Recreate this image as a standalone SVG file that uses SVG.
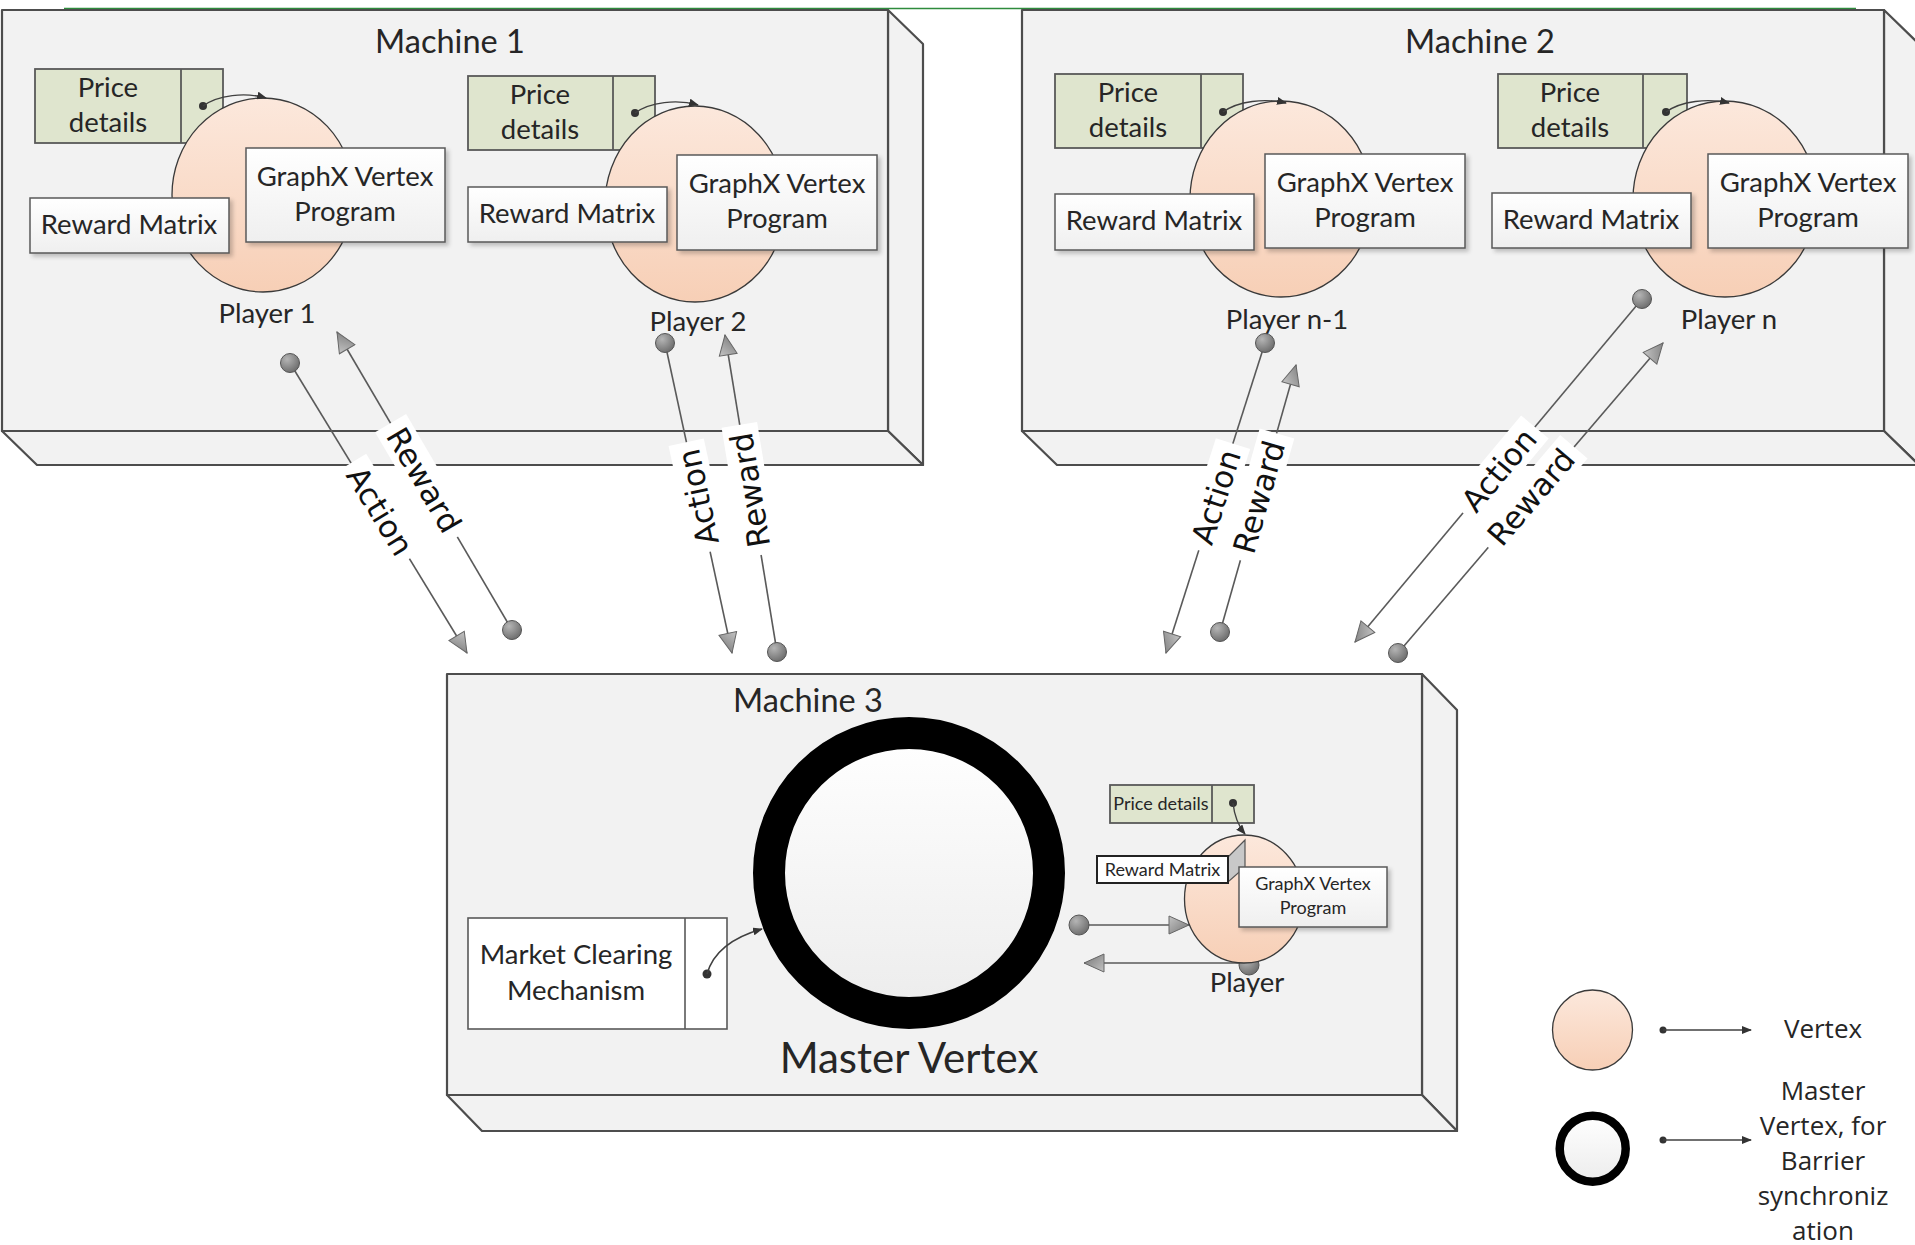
<svg xmlns="http://www.w3.org/2000/svg" width="1915" height="1245" viewBox="0 0 1915 1245">
  <defs>
    <style>
      .mach { fill:#f2f2f2; stroke:#4d4d4d; stroke-width:2.2; stroke-linejoin:round; }
      .box { fill:url(#gWhite); stroke:#595959; stroke-width:1.5; filter:url(#shadow); }
      .price { fill:#dfe5ce; stroke:#595959; stroke-width:1.8; }
      .vtx { fill:url(#gPeach); stroke:#3a3a3a; stroke-width:1.3; }
      .t { font-family:Lato, "Liberation Sans", sans-serif; fill:#262626; text-anchor:middle; font-size:27.5px; }
      .ts { font-family:Lato, "Liberation Sans", sans-serif; fill:#262626; text-anchor:middle; font-size:18px; }
      .title { font-family:Lato, "Liberation Sans", sans-serif; fill:#262626; text-anchor:middle; font-size:32.5px; }
      .lbl { font-family:"DejaVu Sans", sans-serif; font-size:31px; fill:#111; text-anchor:middle; }
      .leg { font-family:"Open Sans", "Liberation Sans", sans-serif; font-size:26px; fill:#262626; text-anchor:middle; }
      .conn { stroke:#5a5a5a; stroke-width:1.6; fill:none; }
      .thin { stroke:#404040; stroke-width:1.4; fill:none; }
      .dot { fill:url(#gDot); stroke:#555; stroke-width:1; }
      .pin { fill:#333; }
    </style>
    <linearGradient id="gPeach" x1="0" y1="0" x2="0" y2="1">
      <stop offset="0" stop-color="#fce8dc"/>
      <stop offset="1" stop-color="#f7cfb6"/>
    </linearGradient>
    <linearGradient id="gWhite" x1="0" y1="0" x2="0" y2="1">
      <stop offset="0" stop-color="#ffffff"/>
      <stop offset="1" stop-color="#efefef"/>
    </linearGradient>
    <linearGradient id="gRing" x1="0" y1="0" x2="0" y2="1">
      <stop offset="0" stop-color="#ffffff"/>
      <stop offset="1" stop-color="#ececec"/>
    </linearGradient>
    <radialGradient id="gDot" cx="0.35" cy="0.3" r="0.8">
      <stop offset="0" stop-color="#b5b5b5"/>
      <stop offset="1" stop-color="#666666"/>
    </radialGradient>
    <linearGradient id="gTri" x1="0" y1="0" x2="1" y2="1">
      <stop offset="0" stop-color="#c4c4c4"/>
      <stop offset="1" stop-color="#747474"/>
    </linearGradient>
    <filter id="shadow" x="-10%" y="-10%" width="130%" height="140%">
      <feDropShadow dx="3" dy="3" stdDeviation="2" flood-color="#000" flood-opacity="0.22"/>
    </filter>
    <marker id="tri" viewBox="0 0 22 20" refX="21" refY="10" markerWidth="22" markerHeight="20" markerUnits="userSpaceOnUse" orient="auto">
      <path d="M1,1 L21,10 L1,19 Z" fill="url(#gTri)" stroke="#666" stroke-width="1"/>
    </marker>
    <marker id="sm" viewBox="0 0 10 8" refX="9" refY="4" markerWidth="10" markerHeight="8" markerUnits="userSpaceOnUse" orient="auto">
      <path d="M0,0 L10,4 L0,8 Z" fill="#333"/>
    </marker>
  </defs>

  <rect width="1915" height="1245" fill="#ffffff"/>

  <!-- thin rule along the top -->
  <line x1="64" y1="8.5" x2="1856" y2="8.5" stroke="#2e8b3c" stroke-width="1.6"/>

  <!-- Machine 1 -->
  <g id="machine1">
    <polygon class="mach" points="888,10 923,44 923,465 888,431"/>
    <polygon class="mach" points="2,431 888,431 923,465 37,465"/>
    <rect class="mach" x="2" y="10" width="886" height="421"/>
    <text class="title" x="450" y="53">Machine 1</text>
  </g>

  <!-- Machine 2 -->
  <g id="machine2">
    <polygon class="mach" points="1884,10 1919,44 1919,465 1884,431"/>
    <polygon class="mach" points="1022,431 1884,431 1919,465 1057,465"/>
    <rect class="mach" x="1022" y="10" width="862" height="421"/>
    <text class="title" x="1480" y="53">Machine 2</text>
  </g>

  <!-- Machine 3 -->
  <g id="machine3">
    <polygon class="mach" points="1422,674 1457,710 1457,1131 1422,1095"/>
    <polygon class="mach" points="447,1095 1422,1095 1457,1131 482,1131"/>
    <rect class="mach" x="447" y="674" width="975" height="421"/>
    <text class="title" x="808" y="712">Machine 3</text>
  </g>

  <!-- Player 1 -->
  <g id="player1">
    <rect class="price" x="35" y="69" width="188" height="74"/>
    <line class="price" x1="181" y1="69" x2="181" y2="143"/>
    <text class="t" x="108" y="97">Price</text>
    <text class="t" x="108" y="132">details</text>
    <ellipse class="vtx" cx="263" cy="195" rx="91" ry="97"/>
    <circle class="pin" cx="203" cy="106" r="4"/>
    <path class="thin" d="M203,106 C218,95 245,92 266,98" marker-end="url(#sm)"/>
    <rect class="box" x="246" y="148" width="199" height="94"/>
    <text class="t" x="345" y="186">GraphX Vertex</text>
    <text class="t" x="345" y="221">Program</text>
    <rect class="box" x="30" y="198" width="199" height="55"/>
    <text class="t" x="129" y="234">Reward Matrix</text>
    <text class="t" x="267" y="323">Player 1</text>
  </g>

  <!-- Player 2 -->
  <g id="player2">
    <rect class="price" x="468" y="76" width="187" height="74"/>
    <line class="price" x1="613" y1="76" x2="613" y2="150"/>
    <text class="t" x="540" y="104">Price</text>
    <text class="t" x="540" y="139">details</text>
    <ellipse class="vtx" cx="695" cy="204" rx="90" ry="98"/>
    <circle class="pin" cx="635" cy="113" r="4"/>
    <path class="thin" d="M635,113 C650,102 677,99 698,105" marker-end="url(#sm)"/>
    <rect class="box" x="677" y="155" width="200" height="95"/>
    <text class="t" x="777" y="193">GraphX Vertex</text>
    <text class="t" x="777" y="228">Program</text>
    <rect class="box" x="468" y="187" width="199" height="55"/>
    <text class="t" x="567" y="223">Reward Matrix</text>
    <text class="t" x="698" y="331">Player 2</text>
  </g>

  <!-- Player n-1 -->
  <g id="player-n-1">
    <rect class="price" x="1055" y="74" width="188" height="74"/>
    <line class="price" x1="1201" y1="74" x2="1201" y2="148"/>
    <text class="t" x="1128" y="102">Price</text>
    <text class="t" x="1128" y="137">details</text>
    <ellipse class="vtx" cx="1281" cy="199" rx="91" ry="98"/>
    <circle class="pin" cx="1223" cy="112" r="4"/>
    <path class="thin" d="M1223,112 C1238,101 1265,98 1286,103" marker-end="url(#sm)"/>
    <rect class="box" x="1265" y="154" width="200" height="94"/>
    <text class="t" x="1365" y="192">GraphX Vertex</text>
    <text class="t" x="1365" y="227">Program</text>
    <rect class="box" x="1055" y="194" width="199" height="56"/>
    <text class="t" x="1154" y="230">Reward Matrix</text>
    <text class="t" x="1287" y="329">Player n-1</text>
  </g>

  <!-- Player n -->
  <g id="player-n">
    <rect class="price" x="1498" y="74" width="189" height="74"/>
    <line class="price" x1="1643" y1="74" x2="1643" y2="148"/>
    <text class="t" x="1570" y="102">Price</text>
    <text class="t" x="1570" y="137">details</text>
    <ellipse class="vtx" cx="1725" cy="199" rx="92" ry="98"/>
    <circle class="pin" cx="1666" cy="112" r="4"/>
    <path class="thin" d="M1666,112 C1681,101 1708,98 1729,103" marker-end="url(#sm)"/>
    <rect class="box" x="1708" y="154" width="200" height="94"/>
    <text class="t" x="1808" y="192">GraphX Vertex</text>
    <text class="t" x="1808" y="227">Program</text>
    <rect class="box" x="1492" y="193" width="199" height="55"/>
    <text class="t" x="1591" y="229">Reward Matrix</text>
    <text class="t" x="1729" y="329">Player n</text>
  </g>

  <!-- Master vertex with market clearing -->
  <g id="master-vertex">
    <circle cx="909" cy="873" r="140" fill="url(#gRing)" stroke="#000" stroke-width="32"/>
    <text class="title" x="909" y="1073" style="font-size:42px">Master Vertex</text>
  </g>
  <g id="market-clearing">
    <rect x="468" y="918" width="259" height="111" fill="#ffffff" stroke="#595959" stroke-width="1.6"/>
    <line x1="685" y1="918" x2="685" y2="1029" stroke="#595959" stroke-width="1.6"/>
    <text class="t" x="576" y="964">Market Clearing</text>
    <text class="t" x="576" y="1000">Mechanism</text>
    <circle class="pin" cx="707" cy="974" r="4.5"/>
    <path d="M707,974 Q716,942 762,929" stroke="#404040" stroke-width="1.6" fill="none" marker-end="url(#sm)"/>
  </g>

  <!-- Connectors -->
  <g id="connectors">
    <path class="conn" d="M290,363 L467,653" marker-end="url(#tri)"/>
    <path class="conn" d="M512,630 L337,332" marker-end="url(#tri)"/>
    <path class="conn" d="M665,343 L732,653" marker-end="url(#tri)"/>
    <path class="conn" d="M777,652 L725,335" marker-end="url(#tri)"/>
    <path class="conn" d="M1265,343 L1166,653" marker-end="url(#tri)"/>
    <path class="conn" d="M1220,632 L1296,365" marker-end="url(#tri)"/>
    <path class="conn" d="M1642,299 L1355,642" marker-end="url(#tri)"/>
    <path class="conn" d="M1398,653 L1663,343" marker-end="url(#tri)"/>
    <path class="conn" d="M1079,925 L1189,925" marker-end="url(#tri)"/>
    <path class="conn" d="M1249,963 L1084,963" marker-end="url(#tri)"/>
    <circle class="dot" cx="290" cy="363" r="9.5"/>
    <circle class="dot" cx="512" cy="630" r="9.5"/>
    <circle class="dot" cx="665" cy="343" r="9.5"/>
    <circle class="dot" cx="777" cy="652" r="9.5"/>
    <circle class="dot" cx="1265" cy="343" r="9.5"/>
    <circle class="dot" cx="1220" cy="632" r="9.5"/>
    <circle class="dot" cx="1642" cy="299" r="9.5"/>
    <circle class="dot" cx="1398" cy="653" r="9.5"/>
    <circle class="dot" cx="1079" cy="925" r="10"/>
    <circle class="dot" cx="1249" cy="965" r="10"/>

    <g transform="translate(380,511) rotate(58.6)">
      <rect x="-56" y="-18" width="112" height="36" fill="#fff"/>
      <text class="lbl" y="11">Action</text>
    </g>
    <g transform="translate(424,480) rotate(59.6)">
      <rect x="-66" y="-18" width="132" height="36" fill="#fff"/>
      <text class="lbl" y="11">Reward</text>
    </g>
    <g transform="translate(698,497) rotate(-102.2)">
      <rect x="-56" y="-18" width="112" height="36" fill="#fff"/>
      <text class="lbl" y="11">Action</text>
    </g>
    <g transform="translate(750,490) rotate(-99.3)">
      <rect x="-66" y="-18" width="132" height="36" fill="#fff"/>
      <text class="lbl" y="11">Reward</text>
    </g>
    <g transform="translate(1216,497) rotate(-72.3)">
      <rect x="-56" y="-18" width="112" height="36" fill="#fff"/>
      <text class="lbl" y="11">Action</text>
    </g>
    <g transform="translate(1259,497) rotate(-74.2)">
      <rect x="-66" y="-18" width="132" height="36" fill="#fff"/>
      <text class="lbl" y="11">Reward</text>
    </g>
    <g transform="translate(1499,470) rotate(-50.1)">
      <rect x="-56" y="-18" width="112" height="36" fill="#fff"/>
      <text class="lbl" y="11">Action</text>
    </g>
    <g transform="translate(1531,497) rotate(-49.5)">
      <rect x="-66" y="-18" width="132" height="36" fill="#fff"/>
      <text class="lbl" y="11">Reward</text>
    </g>
  </g>

  <!-- Player vertex on machine 3 -->
  <g id="player-m3">
    <rect class="price" x="1110" y="785" width="144" height="38"/>
    <line class="price" x1="1212" y1="785" x2="1212" y2="823"/>
    <text class="ts" x="1161" y="810">Price details</text>
    <ellipse class="vtx" cx="1244" cy="899" rx="59.5" ry="64"/>
    <circle class="pin" cx="1233" cy="803" r="4"/>
    <path class="thin" d="M1233,803 Q1235,822 1245,834" marker-end="url(#sm)"/>
    <polygon points="1245,840 1245,867 1228,882 1228,857" fill="#c8c8c8" stroke="#555" stroke-width="1.2"/>
    <rect x="1097" y="856" width="131" height="27" fill="#ffffff" stroke="#222" stroke-width="2"/>
    <text class="ts" x="1162.5" y="876">Reward Matrix</text>
    <rect class="box" x="1239" y="867" width="148" height="60"/>
    <text class="ts" x="1313" y="890">GraphX Vertex</text>
    <text class="ts" x="1313" y="914">Program</text>
    <text class="t" x="1247" y="992">Player</text>
  </g>

  <!-- Legend -->
  <g id="legend-vertex">
    <circle class="vtx" cx="1592.5" cy="1030" r="40"/>
    <circle class="pin" cx="1663" cy="1030" r="3.5"/>
    <path class="thin" d="M1663,1030 L1751,1030" marker-end="url(#sm)"/>
    <text class="leg" x="1823" y="1038">Vertex</text>
  </g>
  <g id="legend-master">
    <circle cx="1592.7" cy="1148.7" r="33" fill="url(#gRing)" stroke="#000" stroke-width="8.5"/>
    <circle class="pin" cx="1663" cy="1140" r="3.5"/>
    <path class="thin" d="M1663,1140 L1751,1140" marker-end="url(#sm)"/>
    <text class="leg" x="1823" y="1100">Master</text>
    <text class="leg" x="1823" y="1135">Vertex, for</text>
    <text class="leg" x="1823" y="1170">Barrier</text>
    <text class="leg" x="1823" y="1205">synchroniz</text>
    <text class="leg" x="1823" y="1240">ation</text>
  </g>
</svg>
